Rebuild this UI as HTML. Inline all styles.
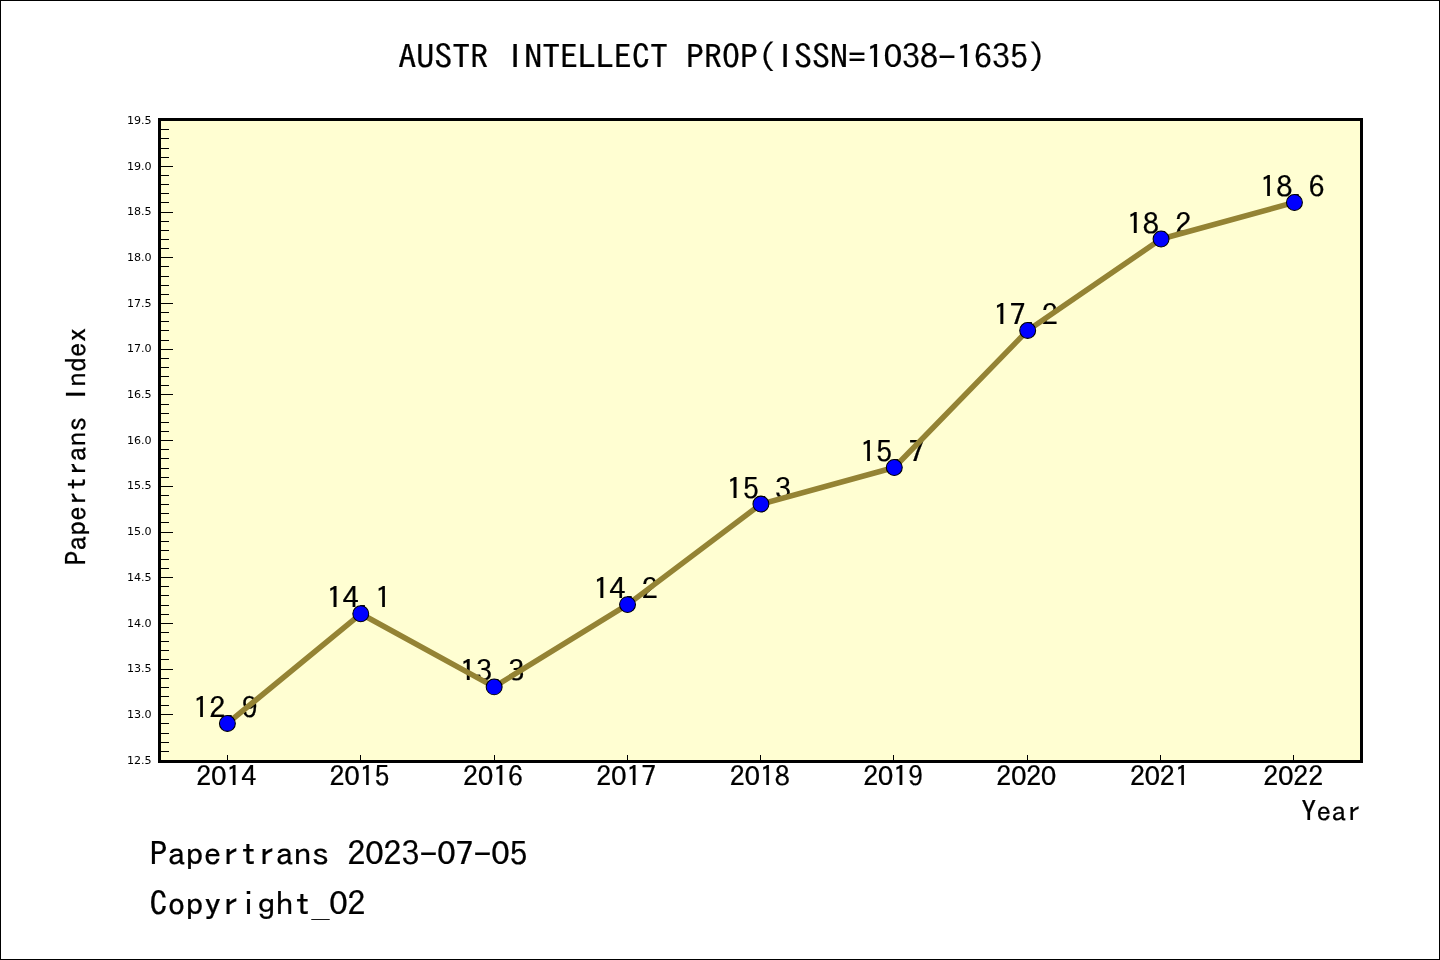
<!DOCTYPE html>
<html lang="en"><head><meta charset="utf-8"><title>AUSTR INTELLECT PROP(ISSN=1038-1635)</title>
<style>html,body{margin:0;padding:0;background:#fff;}body{width:1440px;height:960px;overflow:hidden;position:relative;}svg{position:absolute;left:0;top:0;display:block;will-change:transform;}.m{font-family:"IPAGothic", "WenQuanYi Zen Hei Mono", "Liberation Mono", monospace;fill:#000;stroke:#000;stroke-width:0.25px;}.s{font-family:"DejaVu Sans", "Liberation Sans", sans-serif;fill:#000;}.z{font-family:"Noto Sans CJK SC","Liberation Sans",sans-serif;}</style></head><body>
<svg width="1440" height="960" viewBox="0 0 1440 960">
<rect x="0" y="0" width="1440" height="960" fill="#fff"/>
<rect x="0.5" y="0.5" width="1439" height="959" fill="none" stroke="#000" stroke-width="1"/>
<rect x="159.5" y="119.5" width="1202" height="642" fill="#FFFED2"/>
<path d="M161 760.5H173M161 751.5H169M161 742.5H169M161 733.5H169M161 723.5H169M161 714.5H173M161 705.5H169M161 696.5H169M161 687.5H169M161 678.5H169M161 669.5H173M161 659.5H169M161 650.5H169M161 641.5H169M161 632.5H169M161 623.5H173M161 614.5H169M161 605.5H169M161 595.5H169M161 586.5H169M161 577.5H173M161 568.5H169M161 559.5H169M161 550.5H169M161 541.5H169M161 532.5H173M161 522.5H169M161 513.5H169M161 504.5H169M161 495.5H169M161 486.5H173M161 477.5H169M161 468.5H169M161 458.5H169M161 449.5H169M161 440.5H173M161 431.5H169M161 422.5H169M161 413.5H169M161 404.5H169M161 394.5H173M161 385.5H169M161 376.5H169M161 367.5H169M161 358.5H169M161 349.5H173M161 340.5H169M161 330.5H169M161 321.5H169M161 312.5H169M161 303.5H173M161 294.5H169M161 285.5H169M161 276.5H169M161 266.5H169M161 257.5H173M161 248.5H169M161 239.5H169M161 230.5H169M161 221.5H169M161 212.5H173M161 202.5H169M161 193.5H169M161 184.5H169M161 175.5H169M161 166.5H173M161 157.5H169M161 148.5H169M161 138.5H169M161 129.5H169M161 120.5H173" stroke="#000" stroke-width="1" fill="none" shape-rendering="crispEdges"/>
<path d="M227.5 760V755M360.5 760V755M494.5 760V755M627.5 760V755M760.5 760V755M893.5 760V755M1027.5 760V755M1160.5 760V755M1293.5 760V755" stroke="#000" stroke-width="1" fill="none" shape-rendering="crispEdges"/>
<text class="m" aria-label="12.9" transform="translate(193.00,718.04) scale(1,0.900)" font-size="32.40">12<tspan dx="-1.20" dy="1.20">.</tspan><tspan dx="1.20" dy="-1.20">9</tspan></text>
<text class="m" aria-label="14.1" transform="translate(326.38,608.36) scale(1,0.900)" font-size="32.40">14<tspan dx="-1.20" dy="1.20">.</tspan><tspan dx="1.20" dy="-1.20">1</tspan></text>
<text class="m" aria-label="13.3" transform="translate(459.76,681.48) scale(1,0.900)" font-size="32.40">13<tspan dx="-1.20" dy="1.20">.</tspan><tspan dx="1.20" dy="-1.20">3</tspan></text>
<text class="m" aria-label="14.2" transform="translate(593.14,599.22) scale(1,0.900)" font-size="32.40">14<tspan dx="-1.20" dy="1.20">.</tspan><tspan dx="1.20" dy="-1.20">2</tspan></text>
<text class="m" aria-label="15.3" transform="translate(726.52,498.68) scale(1,0.900)" font-size="32.40">15<tspan dx="-1.20" dy="1.20">.</tspan><tspan dx="1.20" dy="-1.20">3</tspan></text>
<text class="m" aria-label="15.7" transform="translate(859.90,462.12) scale(1,0.900)" font-size="32.40">15<tspan dx="-1.20" dy="1.20">.</tspan><tspan dx="1.20" dy="-1.20">7</tspan></text>
<text class="m" aria-label="17.2" transform="translate(993.28,325.02) scale(1,0.900)" font-size="32.40">17<tspan dx="-1.20" dy="1.20">.</tspan><tspan dx="1.20" dy="-1.20">2</tspan></text>
<text class="m" aria-label="18.2" transform="translate(1126.66,233.62) scale(1,0.900)" font-size="32.40">18<tspan dx="-1.20" dy="1.20">.</tspan><tspan dx="1.20" dy="-1.20">2</tspan></text>
<text class="m" aria-label="18.6" transform="translate(1260.04,197.06) scale(1,0.900)" font-size="32.40">18<tspan dx="-1.20" dy="1.20">.</tspan><tspan dx="1.20" dy="-1.20">6</tspan></text>
<polyline points="227.40,723.44 360.78,613.76 494.16,686.88 627.54,604.62 760.92,504.08 894.30,467.52 1027.68,330.42 1161.06,239.02 1294.44,202.46" fill="none" stroke="#948334" stroke-width="5.50" stroke-linejoin="round" stroke-linecap="butt"/>
<circle cx="227.40" cy="723.44" r="7.95" fill="#0000ff" stroke="#000" stroke-width="1.05"/>
<circle cx="360.78" cy="613.76" r="7.95" fill="#0000ff" stroke="#000" stroke-width="1.05"/>
<circle cx="494.16" cy="686.88" r="7.95" fill="#0000ff" stroke="#000" stroke-width="1.05"/>
<circle cx="627.54" cy="604.62" r="7.95" fill="#0000ff" stroke="#000" stroke-width="1.05"/>
<circle cx="760.92" cy="504.08" r="7.95" fill="#0000ff" stroke="#000" stroke-width="1.05"/>
<circle cx="894.30" cy="467.52" r="7.95" fill="#0000ff" stroke="#000" stroke-width="1.05"/>
<circle cx="1027.68" cy="330.42" r="7.95" fill="#0000ff" stroke="#000" stroke-width="1.05"/>
<circle cx="1161.06" cy="239.02" r="7.95" fill="#0000ff" stroke="#000" stroke-width="1.05"/>
<circle cx="1294.44" cy="202.46" r="7.95" fill="#0000ff" stroke="#000" stroke-width="1.05"/>
<rect x="159.5" y="119.5" width="1202" height="642" fill="none" stroke="#000" stroke-width="3"/>
<text class="s" x="151.6" y="763.60" font-size="11.10" text-anchor="end">12.5</text>
<text class="s" x="151.6" y="717.90" font-size="11.10" text-anchor="end">13.0</text>
<text class="s" x="151.6" y="672.20" font-size="11.10" text-anchor="end">13.5</text>
<text class="s" x="151.6" y="626.50" font-size="11.10" text-anchor="end">14.0</text>
<text class="s" x="151.6" y="580.80" font-size="11.10" text-anchor="end">14.5</text>
<text class="s" x="151.6" y="535.10" font-size="11.10" text-anchor="end">15.0</text>
<text class="s" x="151.6" y="489.40" font-size="11.10" text-anchor="end">15.5</text>
<text class="s" x="151.6" y="443.70" font-size="11.10" text-anchor="end">16.0</text>
<text class="s" x="151.6" y="398.00" font-size="11.10" text-anchor="end">16.5</text>
<text class="s" x="151.6" y="352.30" font-size="11.10" text-anchor="end">17.0</text>
<text class="s" x="151.6" y="306.60" font-size="11.10" text-anchor="end">17.5</text>
<text class="s" x="151.6" y="260.90" font-size="11.10" text-anchor="end">18.0</text>
<text class="s" x="151.6" y="215.20" font-size="11.10" text-anchor="end">18.5</text>
<text class="s" x="151.6" y="169.50" font-size="11.10" text-anchor="end">19.0</text>
<text class="s" x="151.6" y="123.80" font-size="11.10" text-anchor="end">19.5</text>
<text class="m" aria-label="2014" transform="translate(226.20,786.40) scale(1,0.900)" font-size="30.00" text-anchor="middle">2<tspan class="z" font-size="29.10" dx="-0.58" dy="-1.74">0</tspan><tspan dx="-0.58" dy="1.74">14</tspan></text>
<text class="m" aria-label="2015" transform="translate(359.58,786.40) scale(1,0.900)" font-size="30.00" text-anchor="middle">2<tspan class="z" font-size="29.10" dx="-0.58" dy="-1.74">0</tspan><tspan dx="-0.58" dy="1.74">15</tspan></text>
<text class="m" aria-label="2016" transform="translate(492.96,786.40) scale(1,0.900)" font-size="30.00" text-anchor="middle">2<tspan class="z" font-size="29.10" dx="-0.58" dy="-1.74">0</tspan><tspan dx="-0.58" dy="1.74">16</tspan></text>
<text class="m" aria-label="2017" transform="translate(626.34,786.40) scale(1,0.900)" font-size="30.00" text-anchor="middle">2<tspan class="z" font-size="29.10" dx="-0.58" dy="-1.74">0</tspan><tspan dx="-0.58" dy="1.74">17</tspan></text>
<text class="m" aria-label="2018" transform="translate(759.72,786.40) scale(1,0.900)" font-size="30.00" text-anchor="middle">2<tspan class="z" font-size="29.10" dx="-0.58" dy="-1.74">0</tspan><tspan dx="-0.58" dy="1.74">18</tspan></text>
<text class="m" aria-label="2019" transform="translate(893.10,786.40) scale(1,0.900)" font-size="30.00" text-anchor="middle">2<tspan class="z" font-size="29.10" dx="-0.58" dy="-1.74">0</tspan><tspan dx="-0.58" dy="1.74">19</tspan></text>
<text class="m" aria-label="2020" transform="translate(1026.48,786.40) scale(1,0.900)" font-size="30.00" text-anchor="middle">2<tspan class="z" font-size="29.10" dx="-0.58" dy="-1.74">0</tspan><tspan dx="-0.58" dy="1.74">2</tspan><tspan class="z" font-size="29.10" dx="-0.58" dy="-1.74">0</tspan></text>
<text class="m" aria-label="2021" transform="translate(1159.86,786.40) scale(1,0.900)" font-size="30.00" text-anchor="middle">2<tspan class="z" font-size="29.10" dx="-0.58" dy="-1.74">0</tspan><tspan dx="-0.58" dy="1.74">21</tspan></text>
<text class="m" aria-label="2022" transform="translate(1293.24,786.40) scale(1,0.900)" font-size="30.00" text-anchor="middle">2<tspan class="z" font-size="29.10" dx="-0.58" dy="-1.74">0</tspan><tspan dx="-0.58" dy="1.74">22</tspan></text>
<text class="m" transform="translate(1361.20,821.20) scale(1,0.890)" font-size="30.00" text-anchor="end">Year</text>
<text class="m" aria-label="Papertrans Index" transform="translate(86.10,446.50) rotate(-90) scale(1,0.900)" font-size="29.80" text-anchor="middle">Papertrans <tspan class="z" font-size="28.91" dx="3.21" dy="-1.73">I</tspan><tspan dx="3.21" dy="1.73">ndex</tspan></text>
<text class="m" aria-label="AUSTR INTELLECT PROP(ISSN=1038-1635)" transform="translate(398.20,69.00) scale(1,0.900)" font-size="36.00">AUSTR <tspan class="z" font-size="34.92" dx="3.88" dy="-2.09">I</tspan><tspan dx="3.88" dy="2.09">NTELLECT PROP(</tspan><tspan class="z" font-size="34.92" dx="3.88" dy="-2.09">I</tspan><tspan dx="3.88" dy="2.09">SSN=1</tspan><tspan class="z" font-size="34.92" dx="-0.69" dy="-2.09">0</tspan><tspan dx="-0.69" dy="2.09">38-1635)</tspan></text>
<text class="m" aria-label="Papertrans 2023-07-05" transform="translate(149.50,865.70) scale(1,0.900)" font-size="36.00">Papertrans 2<tspan class="z" font-size="34.92" dx="-0.69" dy="-2.09">0</tspan><tspan dx="-0.69" dy="2.09">23-</tspan><tspan class="z" font-size="34.92" dx="-0.69" dy="-2.09">0</tspan><tspan dx="-0.69" dy="2.09">7-</tspan><tspan class="z" font-size="34.92" dx="-0.69" dy="-2.09">0</tspan><tspan dx="-0.69" dy="2.09">5</tspan></text>
<text class="m" aria-label="Copyright_02" transform="translate(149.50,915.70) scale(1,0.900)" font-size="36.00">Copyright_<tspan class="z" font-size="34.92" dx="-0.69" dy="-2.09">0</tspan><tspan dx="-0.69" dy="2.09">2</tspan></text>
</svg></body></html>
